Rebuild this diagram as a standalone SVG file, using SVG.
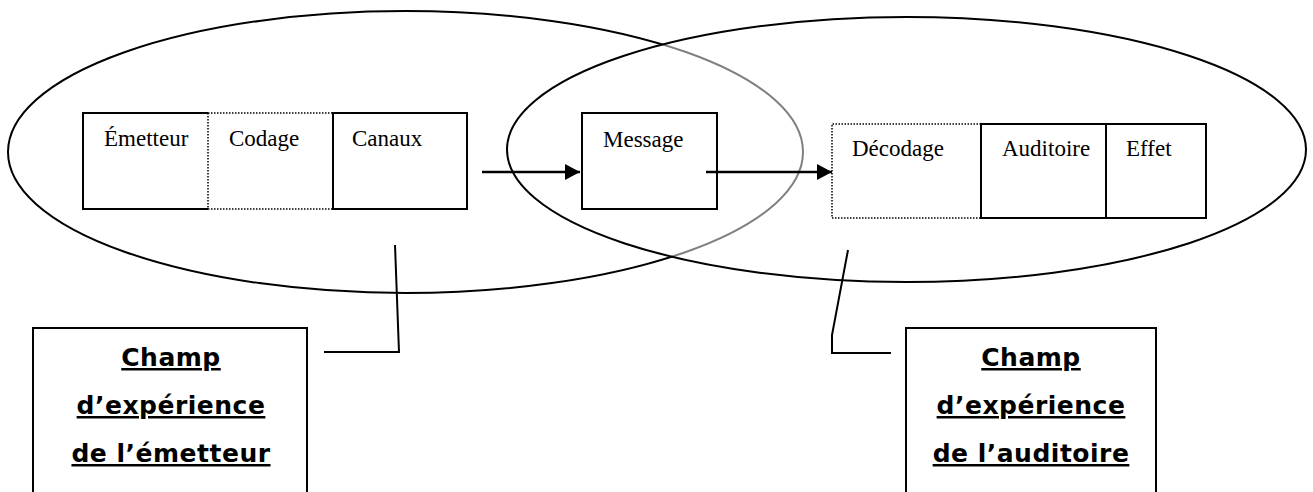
<svg xmlns="http://www.w3.org/2000/svg" width="1313" height="492" viewBox="0 0 1313 492">
<style>
.solid{fill:none;stroke:#000;stroke-width:2}
.dot{fill:none;stroke:#000;stroke-width:1.5;stroke-dasharray:1.5 1.5}
.lbl{font-family:"Liberation Serif","Times New Roman",serif;font-size:23px;fill:#000}
.cap{font-family:"DejaVu Sans",Verdana,sans-serif;font-weight:bold;font-size:25px;letter-spacing:0.5px;fill:#000;text-decoration:underline;text-anchor:middle}
.conn{fill:none;stroke:#000;stroke-width:2.5}
.thin{fill:none;stroke:#000;stroke-width:2}
</style>
<defs>
<clipPath id="outsideR">
<path clip-rule="evenodd" d="M-10,-10 H1330 V510 H-10 Z M507,149.5 a399.5,132.5 0 1,0 799,0 a399.5,132.5 0 1,0 -799,0 Z"/>
</clipPath>
<clipPath id="insideR">
<ellipse cx="906.5" cy="149.5" rx="399.5" ry="132.5"/>
</clipPath>
<marker id="arr" markerWidth="16" markerHeight="16" refX="15" refY="8" orient="auto" markerUnits="userSpaceOnUse">
<path d="M0,0 L15,8 L0,16 Z" fill="#000"/>
</marker>
</defs>

<g id="field-emetteur">
<ellipse cx="405.5" cy="152" rx="397.5" ry="141" fill="none" stroke="#000" stroke-width="2" clip-path="url(#outsideR)"/>
<ellipse cx="405.5" cy="152" rx="397.5" ry="141" fill="none" stroke="#808080" stroke-width="2" clip-path="url(#insideR)"/>
</g>
<g id="field-auditoire">
<ellipse cx="906.5" cy="149.5" rx="399.5" ry="132.5" fill="none" stroke="#000" stroke-width="2"/>
</g>

<g id="emetteur">
<path class="solid" d="M208,113 H83 V209 H208"/>
<path class="dot" d="M208,113 V209"/>
<text class="lbl" x="104" y="146">Émetteur</text>
</g>
<g id="codage">
<path class="dot" d="M208,113 H333 M208,209 H333"/>
<text class="lbl" x="229" y="146">Codage</text>
</g>
<g id="canaux">
<rect class="solid" x="333" y="113" width="134" height="96"/>
<text class="lbl" x="352" y="146">Canaux</text>
</g>
<g id="message">
<rect class="solid" x="582" y="113" width="135" height="96"/>
<text class="lbl" x="603" y="147">Message</text>
</g>
<g id="decodage">
<path class="dot" d="M981,124 H832 V218 H981"/>
<text class="lbl" x="852" y="156">Décodage</text>
</g>
<g id="auditoire">
<rect class="solid" x="981" y="124" width="125" height="94"/>
<text class="lbl" x="1002" y="156">Auditoire</text>
</g>
<g id="effet">
<rect class="solid" x="1106" y="124" width="100" height="94"/>
<text class="lbl" x="1126" y="156">Effet</text>
</g>

<g id="label-emetteur">
<rect class="thin" x="33" y="328" width="274" height="180"/>
<text class="cap" x="171" y="366">Champ</text>
<text class="cap" x="171" y="414">d’expérience</text>
<text class="cap" x="171" y="462">de l’émetteur</text>
</g>
<g id="label-auditoire">
<rect class="thin" x="906" y="328" width="250" height="180"/>
<text class="cap" x="1031" y="366">Champ</text>
<text class="cap" x="1031" y="414">d’expérience</text>
<text class="cap" x="1031" y="462">de l’auditoire</text>
</g>

<g id="connectors">
<line class="conn" x1="482" y1="172" x2="580" y2="172" marker-end="url(#arr)"/>
<line class="conn" x1="706" y1="172" x2="832" y2="172" marker-end="url(#arr)"/>
<polyline class="thin" points="395,245 399,352 324,352"/>
<polyline class="thin" points="848,250 832,335 832,353 891,353"/>
</g>
</svg>
